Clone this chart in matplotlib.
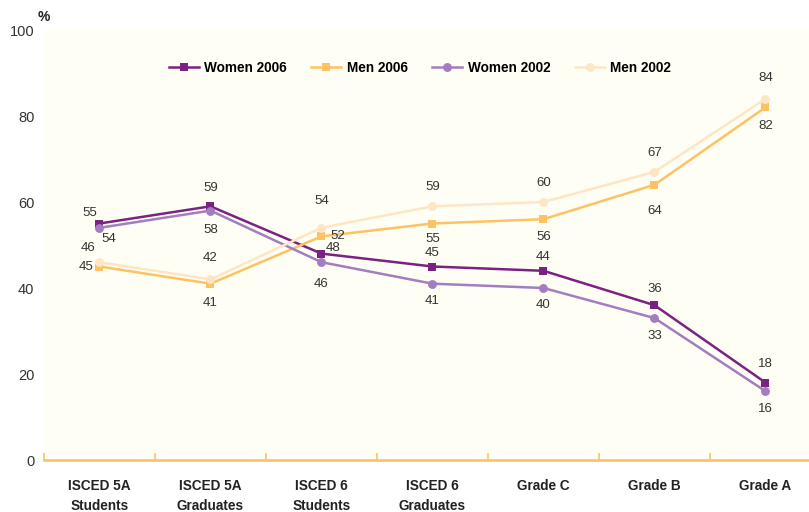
import matplotlib
matplotlib.use("Agg")
import matplotlib.pyplot as plt
import numpy as np

categories = ["ISCED 5A\nStudents", "ISCED 5A\nGraduates", "ISCED 6\nStudents",
              "ISCED 6\nGraduates", "Grade C", "Grade B", "Grade A"]
women_2006 = [55, 59, 48, 45, 44, 36, 18]
men_2006 = [45, 41, 52, 55, 56, 64, 82]
women_2002 = [54, 58, 46, 41, 40, 33, 16]
men_2002 = [46, 42, 54, 59, 60, 67, 84]
yticks = [0, 20, 40, 60, 80, 100]

# label offsets in pixels (dx, dy up)
off_w06 = [(-10, 10), (0, 18), (12, 6), (0, 14), (0, 14), (0, 16), (0, 19)]
off_m06 = [(-13, 0), (0, -19), (16, 0), (0, -15), (0, -18), (0, -26), (0, -19)]
off_w02 = [(9, -11), (0, -19), (0, -22), (0, -17), (0, -17), (0, -18), (0, -18)]
off_m02 = [(-11, 14), (0, 21), (0, 27), (0, 19), (0, 19), (0, 19), (0, 21)]

FONT = ["Liberation Sans Narrow", "Liberation Sans", "DejaVu Sans"]
plt.rcParams["font.family"] = FONT

W, H = 809, 512
fig = plt.figure(figsize=(W / 100, H / 100), dpi=100)
fig.patch.set_facecolor("white")
left, right, bottom, top = 44, 821, 460, 30
ax = fig.add_axes([left / W, (H - bottom) / H, (right - left) / W, (bottom - top) / H])
ax.set_facecolor("#FFFEF5")

x = np.arange(len(categories))
series = [
    ("Women 2006", women_2006, "#7B2181", "s", off_w06),
    ("Men 2006", men_2006, "#FDC263", "s", off_m06),
    ("Women 2002", women_2002, "#A27DC0", "o", off_w02),
    ("Men 2002", men_2002, "#FEE6C4", "o", off_m02),
]
handles = []
for name, vals, col, mk, offs in series:
    h, = ax.plot(x, vals, color=col, lw=1.8, marker=mk, markersize=6.4,
                 markeredgewidth=0, label=name)
    handles.append(h)
    for xi, v, (dx, dy) in zip(x, vals, offs):
        ax.annotate(str(v), (xi, v), xytext=(dx * 0.72, dy * 0.72),
                    textcoords="offset points", ha="center", va="center",
                    fontsize=9.5, color="#333333", family=["Liberation Sans", "DejaVu Sans"])

ax.set_xlim(-0.5, len(categories) - 0.5)
ax.set_ylim(0, 100)
ax.set_yticks(yticks)
ax.set_yticklabels([str(t) for t in yticks], fontsize=10.5, color="#333333",
                   family=["Liberation Sans", "DejaVu Sans"])
ax.tick_params(axis="y", length=0, pad=7)

ax.set_xticks(x)
ax.set_xticklabels(categories, fontsize=9.8, fontweight="bold", color="#222222",
                   linespacing=1.55)
ax.tick_params(axis="x", which="major", length=0, pad=14)
ax.set_xticks(np.arange(-0.5, len(categories), 1), minor=True)
ax.tick_params(axis="x", which="minor", direction="in", length=5, width=1.2,
               color="#FBC46A")

for s in ["top", "right", "left"]:
    ax.spines[s].set_visible(False)
ax.spines["bottom"].set_color("#FBC46A")
ax.spines["bottom"].set_linewidth(2)

fig.text(38 / W, 1 - 17 / H, "%", fontsize=10, fontweight="bold", color="#222222",
         family=["Liberation Sans", "DejaVu Sans"], va="center")

leg = ax.legend(handles=handles, loc="center", bbox_to_anchor=((420 - left) / (right - left), (bottom - 68) / (bottom - top)),
                ncol=4, frameon=False, handlelength=2.2, columnspacing=1.8,
                handletextpad=0.4, prop={"weight": "bold", "size": 9.8})

fig.savefig("out.png", dpi=100)
